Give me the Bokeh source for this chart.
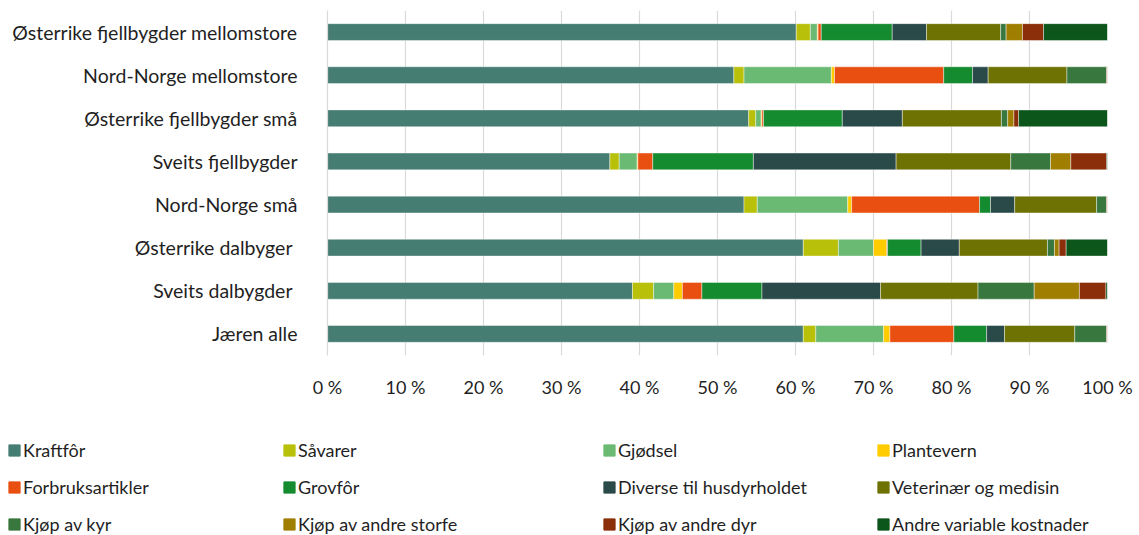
from bokeh.plotting import figure
from bokeh.models import FactorRange, Range1d, FixedTicker, Legend, LegendItem
from bokeh.layouts import column
from bokeh.embed import file_html
from bokeh.resources import INLINE

categories = [
    "Østerrike fjellbygder mellomstore",
    "Nord-Norge mellomstore",
    "Østerrike fjellbygder små",
    "Sveits fjellbygder",
    "Nord-Norge små",
    "Østerrike dalbyger ",
    "Sveits dalbygder ",
    "Jæren alle",
]

series_names = [
    "Kraftfôr", "Såvarer", "Gjødsel", "Plantevern",
    "Forbruksartikler", "Grovfôr", "Diverse til husdyrholdet", "Veterinær og medisin",
    "Kjøp av kyr", "Kjøp av andre storfe", "Kjøp av andre dyr", "Andre variable kostnader",
]

colors = [
    "#467D73", "#B9C00A", "#6BBA74", "#FFCC00",
    "#E94F10", "#158B30", "#2A4A49", "#6E7202",
    "#38773E", "#A07F00", "#8B2E0A", "#0C561C",
]

# values in percent, one list per series, in category order (top to bottom)
kraftfor       = [60.1, 52.1, 54.0, 36.2, 53.4, 61.0, 39.1, 61.0]
savarer        = [1.8, 1.3, 0.9, 1.2, 1.7, 4.5, 2.7, 1.6]
gjodsel        = [0.9, 11.2, 0.7, 2.3, 11.6, 4.5, 2.6, 8.7]
plantevern     = [0.1, 0.4, 0.1, 0.1, 0.5, 1.7, 1.1, 0.8]
forbruk        = [0.4, 14.0, 0.2, 1.9, 16.4, 0.1, 2.5, 8.2]
grovfor        = [9.1, 3.7, 10.1, 12.9, 1.4, 4.3, 7.7, 4.2]
diverse        = [4.4, 2.0, 7.7, 18.3, 3.1, 4.9, 15.2, 2.3]
veterinaer     = [9.5, 10.1, 12.7, 14.7, 10.5, 11.3, 12.5, 9.0]
kjop_kyr       = [0.7, 5.1, 0.8, 5.1, 1.3, 0.9, 7.2, 4.1]
kjop_storfe    = [2.1, 0.0, 0.8, 2.6, 0.0, 0.6, 5.8, 0.0]
kjop_andre_dyr = [2.7, 0.1, 0.6, 4.6, 0.1, 0.9, 3.4, 0.1]
andre_variable = [8.2, 0.0, 11.4, 0.1, 0.0, 5.3, 0.2, 0.0]

x_ticks = [0, 10, 20, 30, 40, 50, 60, 70, 80, 90, 100]
x_tick_labels = ["0 %", "10 %", "20 %", "30 %", "40 %", "50 %", "60 %", "70 %", "80 %", "90 %", "100 %"]

series_values = [kraftfor, savarer, gjodsel, plantevern, forbruk, grovfor, diverse,
                 veterinaer, kjop_kyr, kjop_storfe, kjop_andre_dyr, andre_variable]

keys = [f"s{i}" for i in range(len(series_names))]
data = {"cat": categories}
for k, v in zip(keys, series_values):
    data[k] = v

FONT = "Lato"
TXT = "#1f1f1f"

p = figure(
    width=1139, height=400,
    y_range=FactorRange(factors=list(reversed(categories)), range_padding=0),
    x_range=Range1d(0, 100),
    output_backend="svg", toolbar_location=None,
    min_border_left=327, min_border_right=32, min_border_top=10, min_border_bottom=42,
)
p.frame_align = False
p.outline_line_color = None
p.background_fill_color = "white"

renderers = p.hbar_stack(keys, y="cat", height=0.39, color=colors, source=data,
                         line_color="white", line_width=0.6, line_alpha=0.7)

p.xaxis.ticker = FixedTicker(ticks=x_ticks)
p.xaxis.major_label_overrides = {t: l for t, l in zip(x_ticks, x_tick_labels)}
p.xaxis.axis_line_color = None
p.xaxis.major_tick_line_color = None
p.xaxis.minor_tick_line_color = None
p.xaxis.major_label_standoff = 14
p.xaxis.major_label_text_font = FONT
p.xaxis.major_label_text_font_size = "18px"
p.xaxis.major_label_text_color = TXT

p.yaxis.axis_line_color = "#d9d9d9"
p.yaxis.axis_line_width = 1.2
p.yaxis.major_tick_line_color = None
p.yaxis.minor_tick_line_color = None
p.yaxis.major_label_standoff = 24
p.yaxis.major_label_text_font = FONT
p.yaxis.major_label_text_font_size = "19.5px"
p.yaxis.major_label_text_color = TXT

p.xgrid.grid_line_color = "#d9d9d9"
p.xgrid.grid_line_width = 1.2
p.ygrid.grid_line_color = None

# legend panel below the chart
lf = figure(
    width=1139, height=135,
    x_range=Range1d(0, 100), y_range=FactorRange(factors=list(reversed(categories))),
    output_backend="svg", toolbar_location=None,
    min_border_left=0, min_border_right=0, min_border_top=0, min_border_bottom=0,
)
lf.frame_align = False
lf.axis.visible = False
lf.grid.visible = False
lf.outline_line_color = None
legend_renderers = lf.hbar_stack(keys, y="cat", height=0.39, color=colors, source=data)
for r in legend_renderers:
    r.visible = False

col_x = [7, 282, 602, 876]
for c in range(4):
    items = [LegendItem(label=series_names[c + 4 * r], renderers=[legend_renderers[c + 4 * r]])
             for r in range(3)]
    lg = Legend(items=items, location=(col_x[c], 0),
                orientation="vertical", padding=0, margin=0, spacing=14,
                glyph_width=14, glyph_height=14, label_standoff=2, label_height=23,
                label_text_font=FONT, label_text_font_size="18px", label_text_color=TXT,
                border_line_color=None, background_fill_alpha=0,
                inactive_fill_alpha=0, click_policy="none")
    lf.add_layout(lg, "center")

layout = column(p, lf, spacing=0)
open("out.html", "w").write(file_html(layout, INLINE))
